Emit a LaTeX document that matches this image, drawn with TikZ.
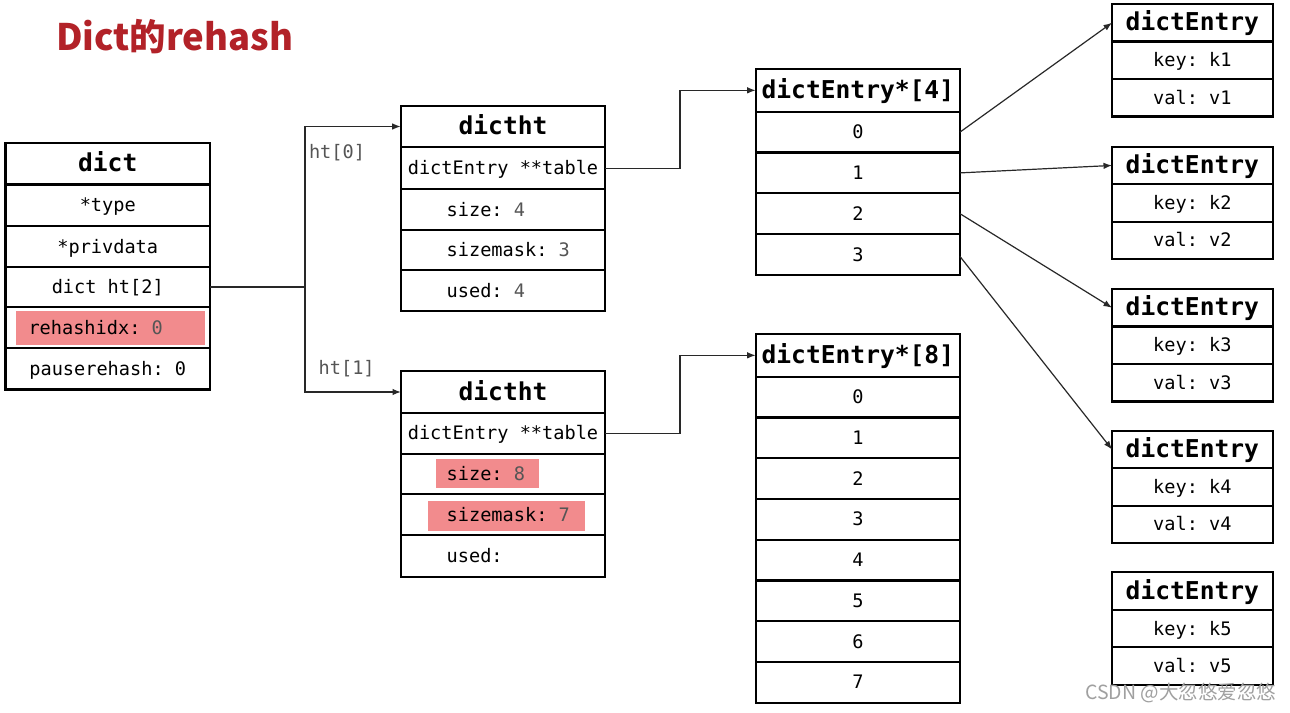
\documentclass[tikz,border=0pt]{standalone}
\usepackage{fontspec}
\setmonofont{DejaVu Sans Mono}
\newfontfamily\cjk{Noto Sans CJK SC}
\usetikzlibrary{arrows.meta}
\definecolor{hl}{RGB}{242,139,141}
\definecolor{titlered}{RGB}{178,34,40}
\definecolor{valgray}{RGB}{85,85,85}
\definecolor{wmgray}{RGB}{160,160,160}
\definecolor{conncol}{RGB}{40,40,40}
\newcommand\monoR{\ttfamily\fontsize{18.6}{22}\selectfont}
\newcommand\monoB{\ttfamily\bfseries\fontsize{24.6}{28}\selectfont}
\tikzset{
  cell/.style={draw=black, line width=2.2pt, inner sep=0pt, outer sep=0pt,
    font=\monoR, text height=15.5pt, text depth=2.5pt},
  hdr/.style={cell, font=\monoB, text height=20pt, text depth=4pt},
  txt/.style={inner sep=0pt, outer sep=0pt, font=\monoR, text height=15.5pt, text depth=2.5pt},
  lbl/.style={txt, text=valgray},
  hlbox/.style={fill=hl, draw=none, inner sep=0pt, outer sep=0pt},
  conn/.style={draw=conncol, line width=1.2pt},
  arr/.style={conn, -{Latex[length=8.5pt,width=6.5pt]}},
}
\begin{document}
\begin{tikzpicture}[x=1pt,y=-1pt]
\useasboundingbox (0,0) rectangle (1290,712);
\fill[white] (0,0) rectangle (1290,712);

% title
\node[anchor=base west, inner sep=0pt, text=titlered,
  font=\cjk\bfseries\fontsize{36.5}{40}\selectfont] (title) at (56,50) {Dict的rehash};

% highlights
\node[hlbox, minimum width=189pt, minimum height=34pt] (hlR) at (110.5,328) {};
\node[hlbox, minimum width=102.7pt, minimum height=28.7pt] (hlS) at (487.35,473.35) {};
\node[hlbox, minimum width=156.7pt, minimum height=29.7pt] (hlM) at (506.35,515.85) {};

% dict
\node[hdr, minimum width=204.5pt, minimum height=41.5pt] (dH) at (107.75,163.75) {dict};
\node[cell, minimum width=204.5pt, minimum height=41.5pt] (dT) at (107.75,205.25) {*type};
\node[cell, minimum width=204.5pt, minimum height=41pt] (dP) at (107.75,246.5) {*privdata};
\node[cell, minimum width=204.5pt, minimum height=40pt] (dHt) at (107.75,287) {dict ht[2]};
\node[cell, minimum width=204.5pt, minimum height=41pt] (dR) at (107.75,327.5) {};
\node[txt, anchor=west] (dRt) at (28.5,327.5) {rehashidx: \textcolor{valgray}{0}};
\node[cell, minimum width=204.5pt, minimum height=41.5pt] (dPs) at (107.75,368.75) {pauserehash: 0};

% dictht ht[0]
\node[hdr, minimum width=204.6pt, minimum height=41.6pt] (tH) at (503,126.5) {dictht};
\node[cell, minimum width=204.6pt, minimum height=41.7pt] (tTab) at (503,168.15) {dictEntry **table};
\node[cell, minimum width=204.6pt, minimum height=41pt] (tS) at (503,209.5) {};
\node[txt, anchor=west] (tSt) at (446.7,209.5) {size: \textcolor{valgray}{4}};
\node[cell, minimum width=204.6pt, minimum height=40.3pt] (tM) at (503,250.15) {};
\node[txt, anchor=west] (tMt) at (446.7,250.15) {sizemask: \textcolor{valgray}{3}};
\node[cell, minimum width=204.6pt, minimum height=40.7pt] (tU) at (503,290.65) {};
\node[txt, anchor=west] (tUt) at (446.7,290.65) {used: \textcolor{valgray}{4}};

% dictht ht[1]
\node[hdr, minimum width=204pt, minimum height=41.4pt] (uH) at (503,392) {dictht};
\node[cell, minimum width=204pt, minimum height=41.3pt] (uTab) at (503,433.35) {dictEntry **table};
\node[cell, minimum width=204pt, minimum height=40pt] (uS) at (503,474) {};
\node[txt, anchor=west] (uSt) at (446.7,474) {size: \textcolor{valgray}{8}};
\node[cell, minimum width=204pt, minimum height=41pt] (uM) at (503,514.5) {};
\node[txt, anchor=west] (uMt) at (446.7,514.5) {sizemask: \textcolor{valgray}{7}};
\node[cell, minimum width=204pt, minimum height=42.3pt] (uU) at (503,556.15) {};
\node[txt, anchor=west] (uUt) at (446.7,556.15) {used:};

% dictEntry*[4]
\node[hdr, minimum width=204.3pt, minimum height=42.7pt] (aH) at (857.85,90.35) {dictEntry*[4]};
\foreach \k in {0,...,3}
  \node[cell, minimum width=204.3pt, minimum height=40.8pt] (a\k) at (857.85,{111.7+20.4+40.8*\k}) {\k};

% dictEntry*[8]
\node[hdr, minimum width=204.3pt, minimum height=42.7pt] (bH) at (857.85,355.35) {dictEntry*[8]};
\foreach \k in {0,...,7}
  \node[cell, minimum width=204.3pt, minimum height=40.75pt] (b\k) at (857.85,{376.7+20.375+40.75*\k}) {\k};

% dictEntry boxes
\foreach \i/\T in {1/4,2/146.7,3/289,4/430.7,5/572.3} {
  \node[hdr, minimum width=160.7pt, minimum height=37.5pt] (eh\i) at (1192.35,{\T+18.75}) {dictEntry};
  \node[cell, minimum width=160.7pt, minimum height=37.5pt] (ek\i) at (1192.35,{\T+56.25}) {key: k\i};
  \node[cell, minimum width=160.7pt, minimum height=37.5pt] (ev\i) at (1192.35,{\T+93.75}) {val: v\i};
}

% labels
\node[lbl] (l0) at (337,151.7) {ht[0]};
\node[lbl] (l1) at (346.7,368) {ht[1]};

% connectors
\coordinate (j) at (305,287);
\draw[conn] (dHt.east) -- (j);
\draw[arr] (j) |- (tH.west);
\draw[arr] (j) |- (uH.west);
\coordinate (k0) at (680,168.15);
\draw[arr] (tTab.east) -- (k0) |- (aH.west);
\coordinate (k1) at (680,433.35);
\draw[arr] (uTab.east) -- (k1) |- (bH.west);
\draw[arr] (a0.east) -- (eh1.west);
\draw[arr] (a1.east) -- (eh2.west);
\draw[arr] (a2.east) -- (eh3.west);
\draw[arr] ([yshift=-2pt]a3.east) -- (eh4.west);

% watermark
\node[anchor=base west, inner sep=0pt, text=wmgray,
  font=\cjk\fontsize{19.5}{22}\selectfont] (wmk) at (1085,699) {CSDN @大忽悠爱忽悠};
\end{tikzpicture}
\end{document}
